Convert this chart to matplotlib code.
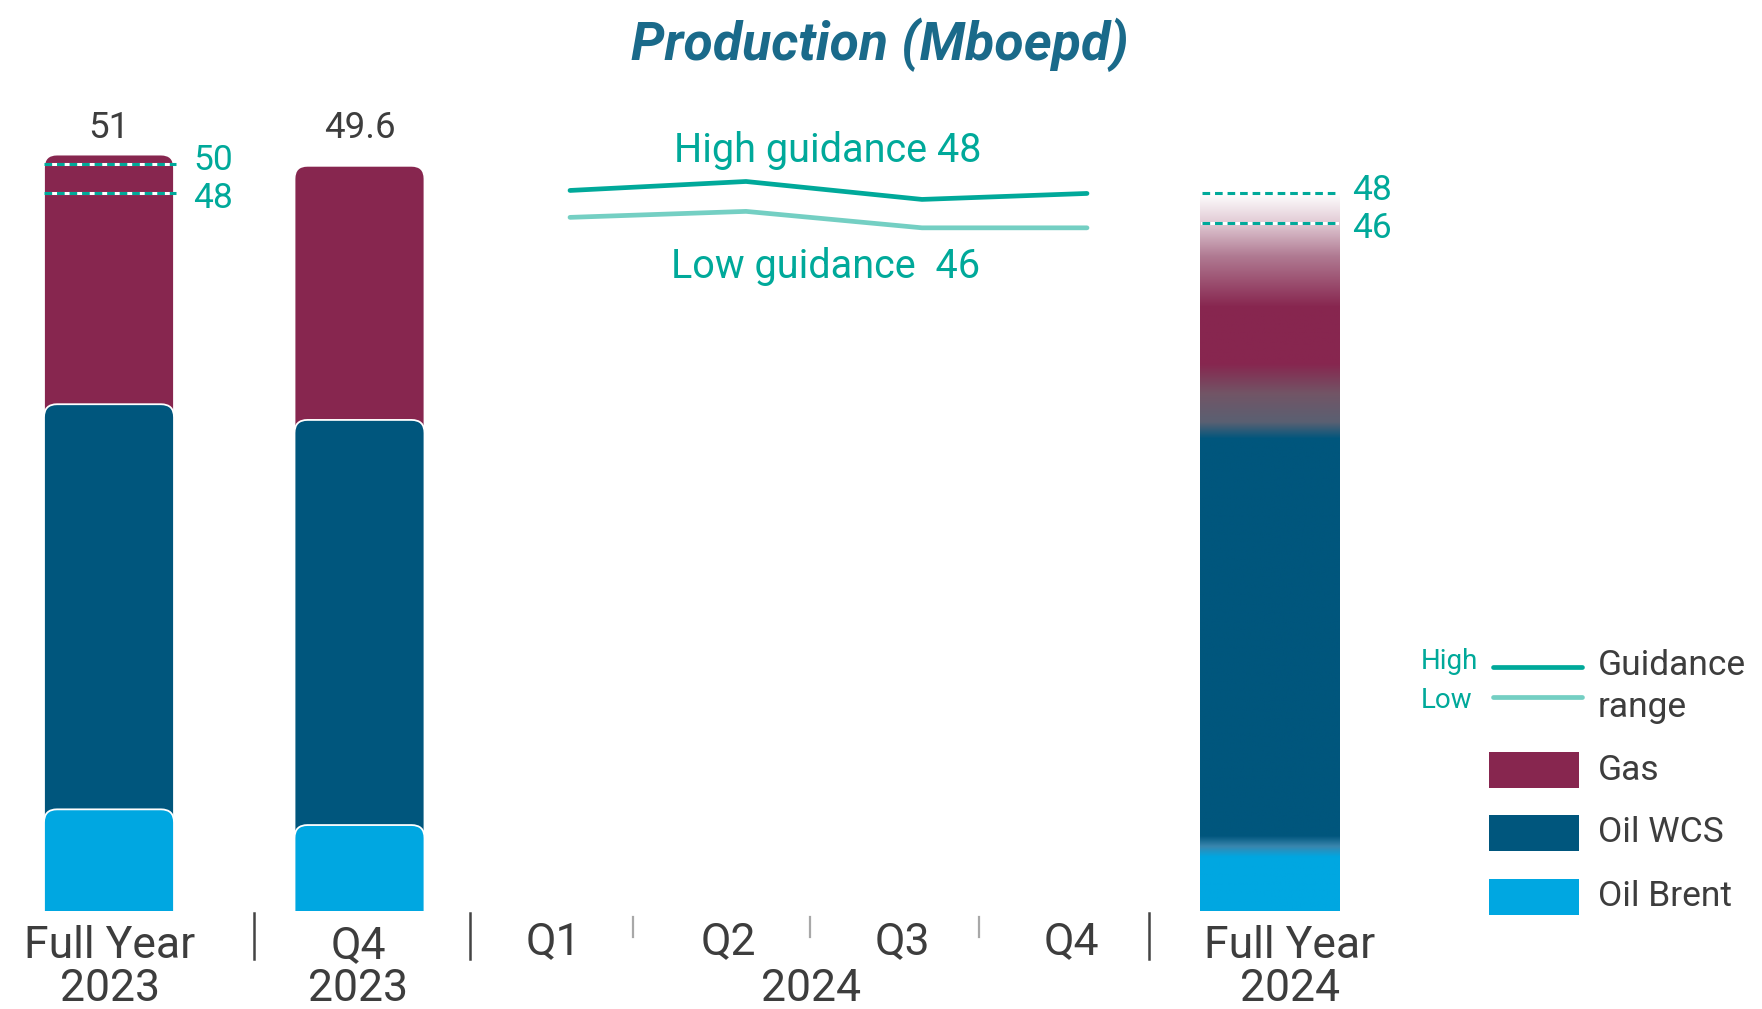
import numpy as np
import matplotlib.pyplot as plt
from matplotlib.patches import FancyBboxPatch, Rectangle
from matplotlib.colors import to_rgb

plt.rcParams['font.family'] = ['Roboto', 'DejaVu Sans']

# ---- data (Mboepd) ----
bar_names = ['Full Year\n2023', 'Q4\n2023']
bar_brent = [6.8, 5.75]
bar_wcs = [27.1, 27.1]
bar_gas = [16.7, 17.0]
bar_totals = ['51', '49.6']
fy23_guidance = [50, 48]

quarters = ['Q1', 'Q2', 'Q3', 'Q4']
high_guidance = [48.2, 48.8, 47.6, 48.0]
low_guidance = [46.4, 46.8, 45.7, 45.7]

fy24_name = 'Full Year\n2024'
fy24_brent = 4.3
fy24_wcs = 30.3
fy24_guidance = [48, 46]

series = ['Gas', 'Oil WCS', 'Oil Brent']
colors = {'Gas': '#87264F', 'Oil WCS': '#00567D', 'Oil Brent': '#00A7E1'}
teal = '#00A99A'
teal_light = '#74CFC3'
grey = '#3D3D3D'
title_color = '#1A6A8A'

# ---- layout (x in units of 100 px) ----
bar_x = [1.09, 3.595]
bar_w = 1.30
label_x = [1.10, 3.58]
q_x = [5.53, 7.28, 9.02, 10.71]
line_x = [5.70, 7.46, 9.22, 10.87]
year_x = 8.11
fy24_x = 12.70
fy24_w = 1.40
fy24_label_x = 12.90
mark_nudge = [0.2, -0.35]  # spread the small teal labels apart

fig = plt.figure(figsize=(17.62, 10.09), dpi=100)
ax = fig.add_axes([0, 0, 1, 1])
xlim = (0, 17.62)
ylim = (-6.555, 60.94)
aspect = (1762 / (xlim[1] - xlim[0])) / (1009 / (ylim[1] - ylim[0]))  # px per x unit / px per y unit


def rounded_bar(x, top, w, color, z):
    box = FancyBboxPatch((x - w / 2, -3), w, top + 3,
                         boxstyle='round,pad=0,rounding_size=0.13',
                         mutation_aspect=aspect, fc=color, ec='white', lw=1.3, zorder=z)
    ax.add_patch(box)
    box.set_clip_path(Rectangle((x - w / 2 - 0.1, 0), w + 0.2, 100, transform=ax.transData))


def dashed(x0, x1, y, z=6):
    ax.plot([x0, x1], [y, y], color='white', lw=2.2, zorder=z)
    ax.plot([x0, x1], [y, y], color=teal, lw=2.2, ls=(0, (2.5, 1.6)), zorder=z + 0.1)


# stacked bars 2023
for i in range(len(bar_x)):
    tops = [bar_brent[i] + bar_wcs[i] + bar_gas[i], bar_brent[i] + bar_wcs[i], bar_brent[i]]
    for k, s in enumerate(series):
        rounded_bar(bar_x[i], tops[k], bar_w, colors[s], 2 + k)
    ax.text(bar_x[i], 52.4, bar_totals[i], ha='center', va='center', fontsize=26.5, color=grey)

# FY2023 guidance markers
for j, g in enumerate(fy23_guidance):
    dashed(bar_x[0] - bar_w / 2, bar_x[0] + bar_w / 2 + 0.02, g)
    ax.text(2.13, g + mark_nudge[j], str(g), ha='center', va='center', fontsize=25.5, color=teal)

# quarterly guidance lines
ax.plot(line_x, high_guidance, color=teal, lw=3.4, solid_capstyle='round', zorder=3)
ax.plot(line_x, low_guidance, color=teal_light, lw=3.4, solid_capstyle='round', zorder=3)
ax.text(8.28, 50.84, 'High guidance 48', ha='center', va='center', fontsize=28.5, color=teal)
ax.text(8.26, 43.08, 'Low guidance  46', ha='center', va='center', fontsize=28.5, color=teal)

# FY2024 bar, faded gradient
b2 = fy24_brent + fy24_wcs
top = fy24_guidance[0]
c_b = to_rgb(colors['Oil Brent'])
c_w = to_rgb(colors['Oil WCS'])
c_g = to_rgb(colors['Gas'])
stops = [(0, c_b), (fy24_brent - 0.7, c_b), (fy24_brent, to_rgb('#3A86AE')),
         (fy24_brent + 0.7, c_w), (b2 - 3.0, c_w), (b2 - 1.9, to_rgb('#5A6072')),
         (b2, to_rgb('#725566')), (b2 + 2.0, c_g), (top - 7.6, c_g),
         (top - 4.2, to_rgb('#B07A92')), (top - 1.9, to_rgb('#E2CCD6')), (top, (1, 1, 1))]
stops_y = [s[0] for s in stops]
yy = np.linspace(0, top, 800)
img = np.zeros((len(yy), 1, 3))
for k in range(3):
    img[:, 0, k] = np.interp(yy, stops_y, [s[1][k] for s in stops])
ax.imshow(img, extent=[fy24_x - fy24_w / 2, fy24_x + fy24_w / 2, 0, top],
          origin='lower', aspect='auto', interpolation='bilinear', zorder=2)
for j, g in enumerate(fy24_guidance):
    dashed(fy24_x - fy24_w / 2 + 0.02, fy24_x + fy24_w / 2 - 0.03, g)
    ax.text(13.72, g + mark_nudge[j], str(g), ha='center', va='center', fontsize=25.5, color=teal)

# category labels
for i, name in enumerate(bar_names):
    l1, l2 = name.split('\n')
    ax.text(label_x[i], -2.35, l1, ha='center', va='center', fontsize=32, color=grey)
    ax.text(label_x[i], -5.25, l2, ha='center', va='center', fontsize=32, color=grey)
for i, q in enumerate(quarters):
    ax.text(q_x[i], -2.1, q, ha='center', va='center', fontsize=32, color=grey)
ax.text(year_x, -5.25, '2024', ha='center', va='center', fontsize=32, color=grey)
l1, l2 = fy24_name.split('\n')
ax.text(fy24_label_x, -2.35, l1, ha='center', va='center', fontsize=32, color=grey)
ax.text(fy24_label_x, -5.25, l2, ha='center', va='center', fontsize=32, color=grey)

# separators
for x in [2.54, 4.70, 11.49]:
    ax.plot([x, x], [-0.13, -3.21], color='#444444', lw=1.8)
for x in [6.33, 8.10, 9.79]:
    ax.plot([x, x], [-0.4, -1.74], color='#A8A8A8', lw=1.6)

# legend, drawn by hand
ax.text(14.21, 16.66, 'High', ha='left', va='center', fontsize=20, color=teal)
ax.text(14.21, 14.11, 'Low', ha='left', va='center', fontsize=20, color=teal)
ax.plot([14.93, 15.82], [16.32, 16.32], color=teal, lw=3.4, solid_capstyle='round')
ax.plot([14.93, 15.82], [14.31, 14.31], color=teal_light, lw=3.4, solid_capstyle='round')
ax.text(15.98, 16.45, 'Guidance', ha='left', va='center', fontsize=25.5, color=grey)
ax.text(15.98, 13.58, 'range', ha='left', va='center', fontsize=25.5, color=grey)
leg_y = [8.23, 4.01, -0.27]
leg_ty = [9.43, 5.22, 0.94]
for k, s in enumerate(series):
    ax.add_patch(Rectangle((14.89, leg_y[k]), 0.90, 2.41, fc=colors[s], ec='none'))
    ax.text(15.98, leg_ty[k], s, ha='left', va='center', fontsize=25.5, color=grey)

ax.text(8.80, 57.93, 'Production (Mboepd)', ha='center', va='center', fontsize=38.5,
        fontweight='bold', fontstyle='italic', color=title_color)

ax.set_xlim(*xlim)
ax.set_ylim(*ylim)
ax.axis('off')
fig.savefig('out.png', dpi=100)
